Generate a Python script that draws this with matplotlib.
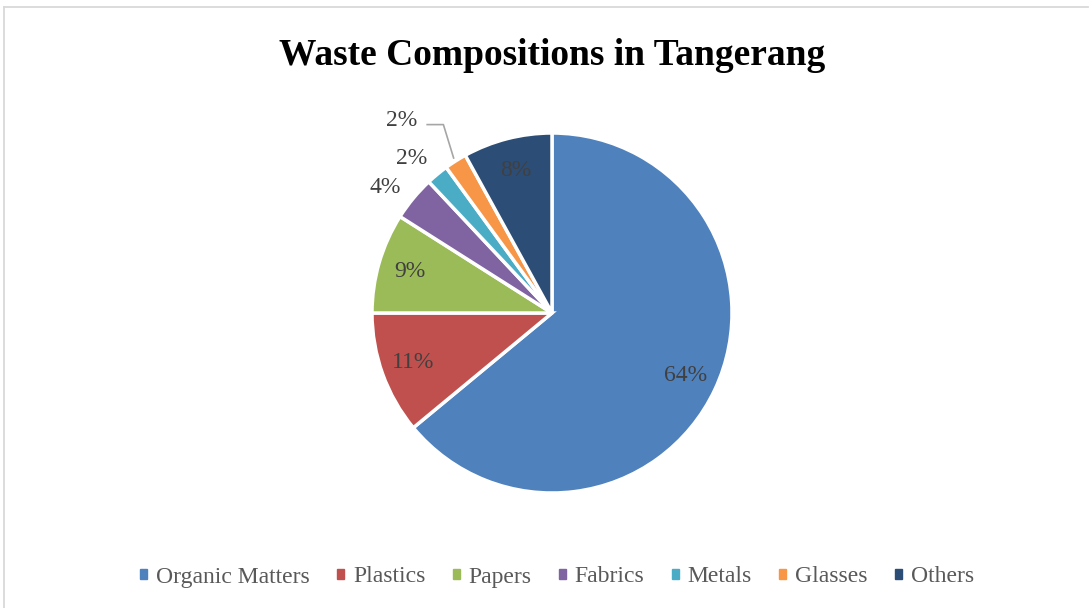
import matplotlib
matplotlib.use("Agg")
import matplotlib.pyplot as plt
import numpy as np

# Data
labels = ["Organic Matters", "Plastics", "Papers", "Fabrics", "Metals", "Glasses", "Others"]
values = [64, 11, 9, 4, 2, 2, 8]
colors = ["#4F81BD", "#C0504D", "#9BBB59", "#8064A2", "#4BACC6", "#F79646", "#2C4D75"]

plt.rcParams["font.family"] = ["Liberation Serif", "DejaVu Serif"]

fig = plt.figure(figsize=(10.9, 6.08), dpi=100)

# light chart border (only top and left show in the crop)
top_y = 1 - 6.5/608
left_x = 3.5/1090
fig.add_artist(plt.Line2D([left_x, 1088/1090], [top_y, top_y], transform=fig.transFigure,
                          color="#D9D9D9", linewidth=1.3))
fig.add_artist(plt.Line2D([left_x, left_x], [0, top_y], transform=fig.transFigure,
                          color="#D9D9D9", linewidth=1.3))

fig.text(552/1090, 1 - 65/608, "Waste Compositions in Tangerang", ha="center", va="baseline",
         fontsize=27, fontweight="bold", color="black")

# pie axes: 1 data unit = 180 px
cx, cy = 552/1090, 1 - 313/608
w, h = 400/1090, 400/608
ax = fig.add_axes([cx - w/2, cy - h/2, w, h])
lim = 200/180

wedges, texts = ax.pie(values, colors=colors, startangle=90, counterclock=False,
                       wedgeprops=dict(edgecolor="white", linewidth=2.5))
ax.set_xlim(-lim, lim)
ax.set_ylim(-lim, lim)
ax.set_aspect("equal")
ax.axis("off")

for i, (wd, v) in enumerate(zip(wedges, values)):
    mid = (wd.theta1 + wd.theta2) / 2
    ang = np.deg2rad(mid)
    txt = "%d%%" % v
    if v >= 5:
        r = 0.82
        ax.text(r*np.cos(ang), r*np.sin(ang), txt, ha="center", va="center",
                fontsize=17, color="#404040")
    elif labels[i] == "Glasses":
        # label pulled out with a leader line
        lx, ly = -150/180, 192/180
        ax.text(lx, ly, txt, ha="center", va="center", fontsize=17, color="#404040")
        ex, ey = 1.02*np.cos(ang), 1.02*np.sin(ang)
        ax.plot([lx + 0.14, lx + 0.23, ex], [ly - 0.02, ly - 0.02, ey],
                color="#A6A6A6", linewidth=1.2)
    else:
        r = 1.16
        a2 = np.deg2rad(mid + 2.5)
        ax.text(r*np.cos(a2), r*np.sin(a2), txt, ha="center", va="center",
                fontsize=17, color="#404040")

handles = [plt.Rectangle((0, 0), 1, 1, color=c) for c in colors]
fig.legend(handles, labels, loc="center", bbox_to_anchor=(557/1090, 1 - 577/608), ncol=7,
           frameon=False, fontsize=17, labelcolor="#595959", handlelength=0.3,
           handleheight=0.3, handletextpad=0.38, columnspacing=1.15)

fig.savefig("out.png", dpi=100)
